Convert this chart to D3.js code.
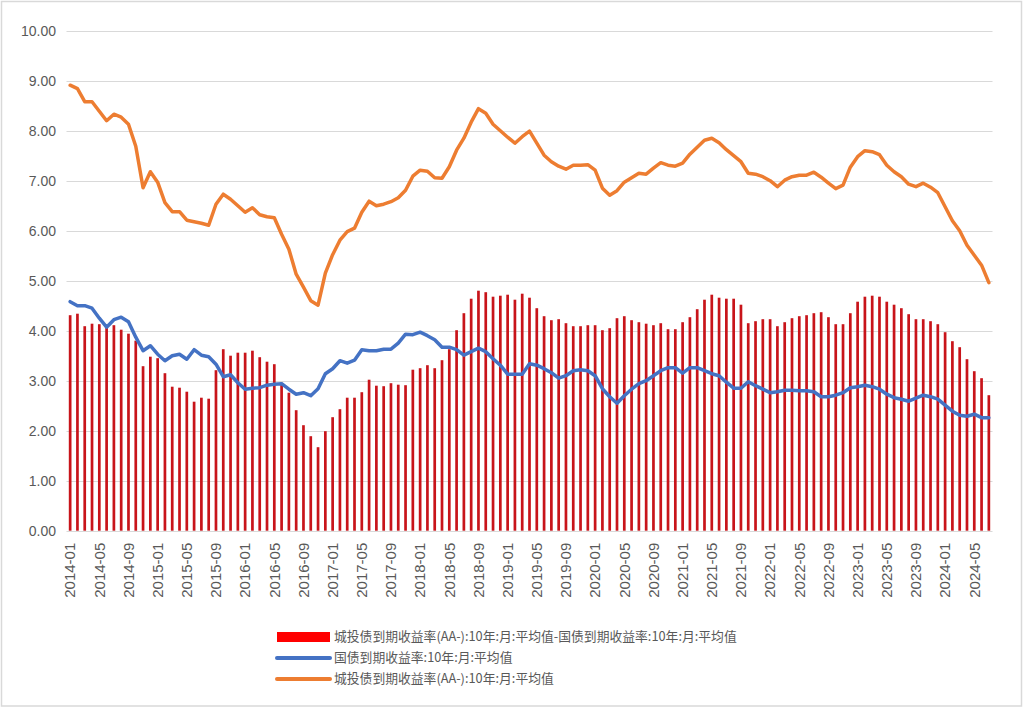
<!DOCTYPE html>
<html>
<head>
<meta charset="utf-8">
<script src="https://cdn.jsdelivr.net/npm/d3@7"></script>
<style>
  html, body { margin: 0; padding: 0; background: #fff; }
  svg { display: block; }
</style>
</head>
<body>
<svg id="chart" width="1023" height="708"></svg>
<script>
// ---------- DATA ----------
const startMonth = "2014-01";
const monthCount = 127; // 2014-01 .. 2024-07

// 城投债到期收益率(AA-):10年:月:平均值
const chengtouYield = [
  8.91, 8.84, 8.58, 8.58, 8.39, 8.20, 8.33, 8.27, 8.13, 7.69,
  6.86, 7.18, 6.97, 6.56, 6.38, 6.38, 6.21, 6.18, 6.15, 6.11,
  6.53, 6.73, 6.63, 6.50, 6.37, 6.46, 6.32, 6.28, 6.26, 5.93,
  5.63, 5.13, 4.87, 4.60, 4.51, 5.15, 5.52, 5.81, 5.98, 6.05,
  6.37, 6.59, 6.50, 6.53, 6.58, 6.66, 6.81, 7.09, 7.21, 7.19,
  7.06, 7.05, 7.28, 7.61, 7.85, 8.17, 8.44, 8.35, 8.13, 8.00,
  7.87, 7.75, 7.88, 7.99, 7.75, 7.51, 7.38, 7.29, 7.23, 7.31,
  7.31, 7.32, 7.21, 6.85, 6.71, 6.80, 6.97, 7.06, 7.15, 7.13,
  7.25, 7.36, 7.31, 7.29, 7.35, 7.53, 7.67, 7.81, 7.85, 7.76,
  7.62, 7.50, 7.38, 7.15, 7.13, 7.08, 7.00, 6.88, 7.01, 7.08,
  7.11, 7.11, 7.17, 7.07, 6.95, 6.84, 6.91, 7.27, 7.48, 7.60,
  7.58, 7.52, 7.31, 7.18, 7.08, 6.93, 6.88, 6.95, 6.87, 6.76,
  6.48, 6.20, 6.00, 5.71, 5.51, 5.31, 4.96
];

// 国债到期收益率:10年:月:平均值
const govYield = [
  4.58, 4.50, 4.50, 4.45, 4.25, 4.07, 4.22, 4.27, 4.18, 3.87,
  3.60, 3.70, 3.53, 3.40, 3.50, 3.53, 3.43, 3.62, 3.51, 3.48,
  3.33, 3.08, 3.12, 2.96, 2.83, 2.85, 2.86, 2.91, 2.93, 2.94,
  2.83, 2.73, 2.76, 2.70, 2.84, 3.14, 3.24, 3.40, 3.35, 3.41,
  3.62, 3.60, 3.60, 3.63, 3.63, 3.75, 3.93, 3.92, 3.97, 3.90,
  3.82, 3.67, 3.67, 3.62, 3.51, 3.58, 3.65, 3.58, 3.44, 3.31,
  3.13, 3.13, 3.13, 3.34, 3.31, 3.24, 3.16, 3.05, 3.10, 3.20,
  3.22, 3.20, 3.10, 2.84, 2.68, 2.55, 2.70, 2.83, 2.94, 3.00,
  3.10, 3.20, 3.26, 3.26, 3.15, 3.26, 3.26, 3.20, 3.14, 3.10,
  2.97, 2.85, 2.85, 2.98, 2.90, 2.83, 2.76, 2.78, 2.81, 2.81,
  2.80, 2.80, 2.78, 2.68, 2.68, 2.71, 2.76, 2.86, 2.88, 2.91,
  2.88, 2.83, 2.73, 2.66, 2.63, 2.59, 2.65, 2.71, 2.68, 2.63,
  2.51, 2.39, 2.31, 2.29, 2.33, 2.26, 2.26
];

// 城投债到期收益率(AA-):10年:月:平均值-国债到期收益率:10年:月:平均值
const spread = [
  4.31, 4.34, 4.09, 4.14, 4.13, 4.07, 4.11, 4.02, 3.94, 3.80,
  3.29, 3.48, 3.45, 3.15, 2.88, 2.86, 2.78, 2.58, 2.66, 2.64,
  3.21, 3.63, 3.50, 3.56, 3.56, 3.60, 3.47, 3.38, 3.33, 2.96,
  2.76, 2.41, 2.11, 1.89, 1.67, 1.99, 2.27, 2.43, 2.66, 2.66,
  2.77, 3.02, 2.90, 2.89, 2.95, 2.92, 2.91, 3.22, 3.25, 3.31,
  3.25, 3.41, 3.63, 4.01, 4.35, 4.64, 4.80, 4.77, 4.68, 4.70,
  4.72, 4.62, 4.74, 4.66, 4.45, 4.29, 4.21, 4.23, 4.15, 4.09,
  4.09, 4.11, 4.11, 4.01, 4.05, 4.25, 4.29, 4.21, 4.17, 4.14,
  4.11, 4.15, 4.03, 4.03, 4.17, 4.27, 4.43, 4.62, 4.72, 4.66,
  4.64, 4.64, 4.52, 4.15, 4.19, 4.23, 4.23, 4.09, 4.17, 4.25,
  4.29, 4.31, 4.35, 4.37, 4.27, 4.13, 4.13, 4.35, 4.58, 4.68,
  4.70, 4.68, 4.58, 4.52, 4.45, 4.33, 4.23, 4.23, 4.19, 4.13,
  3.97, 3.79, 3.67, 3.43, 3.19, 3.05, 2.71
];

const yTicks = [0, 1, 2, 3, 4, 5, 6, 7, 8, 9, 10];
const xTickEvery = 4;

const seriesNames = [
  "城投债到期收益率(AA-):10年:月:平均值-国债到期收益率:10年:月:平均值",
  "国债到期收益率:10年:月:平均值",
  "城投债到期收益率(AA-):10年:月:平均值"
];

// ---------- BUILD ----------
const fmtMonth = d3.timeFormat("%Y-%m");
const parseMonth = d3.timeParse("%Y-%m");
const first = parseMonth(startMonth);
const months = d3.range(monthCount).map(i => fmtMonth(d3.timeMonth.offset(first, i)));
const xTickValues = months.filter((m, i) => i % xTickEvery === 0);

const colors = { bar: "#c8141a", gov: "#4472c4", ct: "#ed7d31", grid: "#d9d9d9", text: "#595959" };

const svg = d3.select("#chart");

// outer border
svg.append("rect")
  .attr("x", 1.5).attr("y", 1.5).attr("width", 1020).attr("height", 704.5)
  .attr("fill", "#fff").attr("stroke", "#d9d9d9").attr("stroke-width", 1.5);

const plot = { left: 66.5, right: 992.5, top: 30.7, bottom: 530.7 };

const x = d3.scaleBand().domain(months).range([plot.left, plot.right]).padding(0);
const y = d3.scaleLinear().domain([0, 10]).range([plot.bottom, plot.top]);
const cx = m => x(m) + x.bandwidth() / 2;

// gridlines
svg.append("g")
  .selectAll("line")
  .data(yTicks)
  .join("line")
  .attr("x1", plot.left).attr("x2", plot.right)
  .attr("y1", d => Math.round(y(d)) + 0.5).attr("y2", d => Math.round(y(d)) + 0.5)
  .attr("stroke", colors.grid).attr("stroke-width", 1.2);

// y axis labels
const yAxis = svg.append("g")
  .attr("transform", `translate(56,0)`)
  .call(d3.axisLeft(y).tickValues(yTicks).tickFormat(d3.format(".2f")).tickSize(0).tickPadding(0));
yAxis.select(".domain").remove();
yAxis.selectAll("text")
  .attr("fill", colors.text)
  .style("font-family", "'Liberation Sans', Arial, sans-serif")
  .style("font-size", "14px");

// bars
const barW = x.bandwidth() * 0.37;
svg.append("g")
  .selectAll("rect")
  .data(months)
  .join("rect")
  .attr("x", (m) => cx(m) - barW / 2)
  .attr("width", barW)
  .attr("y", (m, i) => y(spread[i]))
  .attr("height", (m, i) => y(0) - y(spread[i]))
  .attr("fill", colors.bar);

// lines
const line = arr => d3.line()
  .x((m) => cx(m))
  .y((m, i) => y(arr[i]))(months);

svg.append("path")
  .attr("d", line(govYield))
  .attr("fill", "none")
  .attr("stroke", colors.gov)
  .attr("stroke-width", 3.5)
  .attr("stroke-linejoin", "round")
  .attr("stroke-linecap", "round");

svg.append("path")
  .attr("d", line(chengtouYield))
  .attr("fill", "none")
  .attr("stroke", colors.ct)
  .attr("stroke-width", 3.5)
  .attr("stroke-linejoin", "round")
  .attr("stroke-linecap", "round");

// x axis labels
const xAxis = svg.append("g")
  .attr("transform", `translate(0,${plot.bottom})`)
  .call(d3.axisBottom(x).tickValues(xTickValues).tickSize(0).tickPadding(0));
xAxis.select(".domain").remove();
xAxis.selectAll("text")
  .attr("fill", colors.text)
  .style("font-family", "'Liberation Sans', Arial, sans-serif")
  .style("font-size", "15px")
  .attr("text-anchor", "end")
  .attr("transform", "translate(0,12) rotate(-90)")
  .attr("x", 0)
  .attr("y", 0)
  .attr("dy", "0.35em");

// legend
const legend = svg.append("g");
const legendRows = [
  { name: seriesNames[0], type: "rect", color: "#ff0000", y: 637 },
  { name: seriesNames[1], type: "line", color: colors.gov, y: 658 },
  { name: seriesNames[2], type: "line", color: colors.ct, y: 679 }
];
legendRows.forEach(r => {
  if (r.type === "rect") {
    legend.append("rect").attr("x", 277).attr("y", r.y - 5).attr("width", 53).attr("height", 10).attr("fill", r.color);
  } else {
    legend.append("line").attr("x1", 277).attr("x2", 330).attr("y1", r.y).attr("y2", r.y)
      .attr("stroke", r.color).attr("stroke-width", 4).attr("stroke-linecap", "round");
  }
  legend.append("text")
    .attr("x", 334).attr("y", r.y).attr("dy", "0.35em")
    .attr("fill", colors.text)
    .style("font-family", "'Noto Sans CJK SC', sans-serif")
    .style("font-size", "12.8px")
    .text(r.name);
});
</script>
</body>
</html>
